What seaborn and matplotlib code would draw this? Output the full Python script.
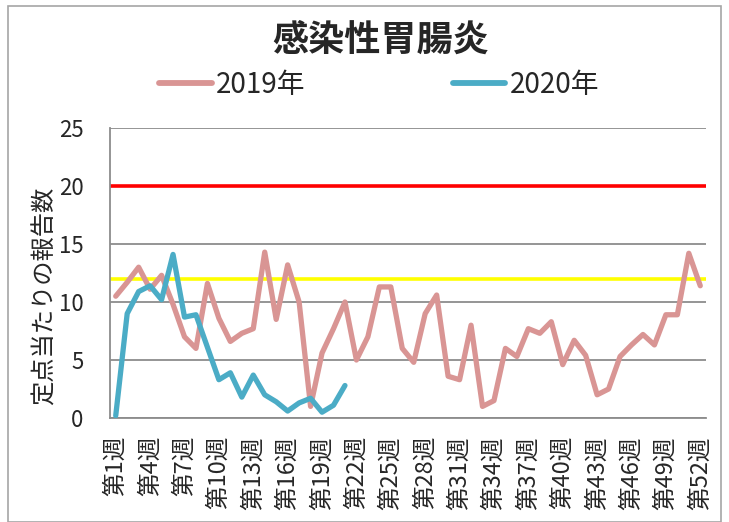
import numpy as np
import pandas as pd
import matplotlib
matplotlib.use("Agg")
import matplotlib.pyplot as plt
import seaborn as sns

weeks_2019 = list(range(1, 53))
vals_2019 = [10.5, 11.7, 13.0, 11.1, 12.3, 9.8, 7.0, 6.0, 11.6, 8.6,
             6.6, 7.3, 7.7, 14.3, 8.5, 13.2, 10.0, 1.0, 5.6, 7.7,
             10.0, 5.0, 7.0, 11.3, 11.3, 6.0, 4.8, 9.0, 10.6, 3.6,
             3.3, 8.0, 1.0, 1.5, 6.0, 5.3, 7.7, 7.3, 8.3, 4.6,
             6.7, 5.4, 2.0, 2.5, 5.3, 6.3, 7.2, 6.3, 8.9, 8.9,
             14.2, 11.4]
weeks_2020 = list(range(1, 22))
vals_2020 = [0.2, 9.0, 10.9, 11.4, 10.2, 14.1, 8.7, 8.9, 6.1, 3.3,
             3.9, 1.8, 3.7, 2.0, 1.4, 0.6, 1.3, 1.7, 0.5, 1.1,
             2.8]
tick_weeks = list(range(1, 53, 3))
tick_labels = [f"第{w}週" for w in tick_weeks]
alert_level = 20
warn_level = 12

title = "感染性胃腸炎"
ylabel = "定点当たりの報告数"
colors = {"2019年": "#D99594", "2020年": "#4BACC6"}

df = pd.concat([
    pd.DataFrame({"week": weeks_2019, "value": vals_2019, "year": "2019年"}),
    pd.DataFrame({"week": weeks_2020, "value": vals_2020, "year": "2020年"}),
])

sns.set_style("white")
plt.rcParams['font.family'] = ['Noto Sans CJK JP', 'DejaVu Sans']

fig = plt.figure(figsize=(7.29, 5.22), dpi=100)
ax = fig.add_axes([110 / 729, 1 - 418 / 522, (706 - 110) / 729, (418 - 128) / 522])

# reference lines
ax.axhline(alert_level, color="#FF0000", linewidth=2.6, zorder=2)
ax.axhline(warn_level, color="#FFFF00", linewidth=2.6, zorder=2)

sns.lineplot(data=df, x="week", y="value", hue="year", palette=colors,
             linewidth=3.8, ax=ax, legend=False, zorder=3)

ax.set_xlim(0.5, 52.5)
ax.set_ylim(0, 25)
ax.set_yticks(range(0, 26, 5))
ax.set_xticks(tick_weeks)
ax.set_xticklabels(tick_labels, rotation=90, fontsize=17, va="top", ha="center")
ax.tick_params(axis="y", labelsize=16, length=0, pad=19)
ax.tick_params(axis="x", length=0, pad=13)
ax.grid(axis="y", color="#8C8C8C", linewidth=1.3)
ax.set_axisbelow(True)
ax.set_xlabel("")
ax.set_ylabel("")
for s in ["top", "right"]:
    ax.spines[s].set_visible(False)
for s in ["left", "bottom"]:
    ax.spines[s].set_color("#8C8C8C")
    ax.spines[s].set_linewidth(1.3)

fig.text(45 / 729, 1 - 296 / 522, ylabel, rotation=90, ha="center", va="center",
         fontsize=17.5)

fig.text(0.522, 1 - 40 / 522, title, ha="center", va="center",
         fontsize=26, fontweight="bold")

handles = [plt.Line2D([], [], color=colors[k], linewidth=4.2) for k in colors]
fig.legend(handles, list(colors.keys()), loc="center", ncol=2,
           bbox_to_anchor=(0.52, 1 - 85 / 522), frameon=False,
           fontsize=20, handlelength=1.9, handletextpad=0.15, columnspacing=5.3)

fig.add_artist(plt.Rectangle((8 / 729, 0.0), 713 / 729, 1 - 6 / 522,
                             transform=fig.transFigure, fill=False,
                             edgecolor="#A6A6A6", linewidth=1.2))

fig.savefig("out.png", dpi=100)
